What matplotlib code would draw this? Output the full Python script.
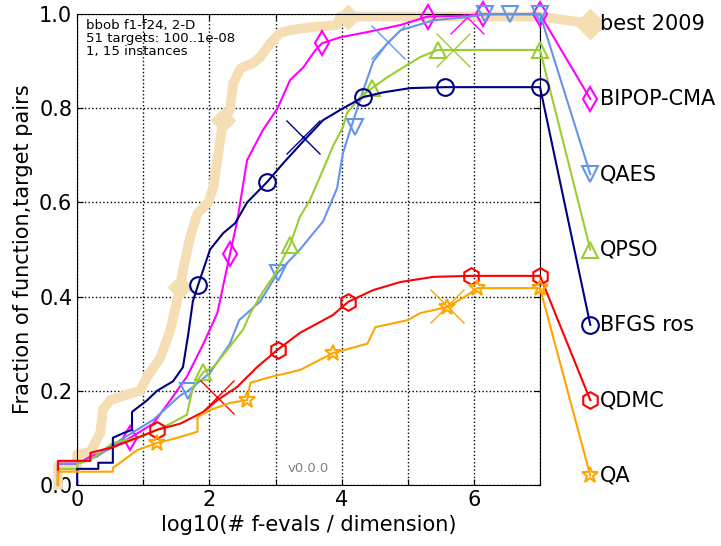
import matplotlib
matplotlib.use('Agg')
import matplotlib.pyplot as plt

# ECDF curves, x = log10(#f-evals / dimension), y = fraction of (function, target) pairs
best_x = [-0.29, -0.29, 0.0, 0.0, 0.2, 0.35, 0.39, 0.5, 0.95, 1.06, 1.26, 1.41, 1.56, 1.60, 1.71, 1.82,
          1.98, 2.06, 2.16, 2.21, 2.31, 2.36, 2.47, 2.66, 2.77, 2.92, 3.07, 3.22, 3.52, 3.93, 3.98, 7.0]
best_y = [0, 0.04, 0.04, 0.065, 0.07, 0.11, 0.16, 0.18, 0.2, 0.23, 0.27, 0.33, 0.42, 0.456, 0.527, 0.577,
          0.599, 0.633, 0.73, 0.775, 0.796, 0.853, 0.885, 0.896, 0.909, 0.938, 0.96, 0.966, 0.972, 0.977, 0.995, 0.995]
best_mx = [1.56, 2.21, 4.1]
best_my = [0.42, 0.775, 0.995]

bipop_x = [-0.29, -0.29, 0.0, 0.2, 0.39, 0.54, 0.80, 1.15, 1.41, 1.66, 1.91, 2.12, 2.31, 2.42, 2.57, 2.81,
           3.03, 3.22, 3.42, 3.60, 3.70, 3.98, 4.39, 4.89, 5.30, 5.9, 6.14, 7.0]
bipop_y = [0, 0.045, 0.045, 0.06, 0.07, 0.08, 0.10, 0.13, 0.18, 0.23, 0.30, 0.365, 0.49, 0.56, 0.69, 0.754,
           0.80, 0.86, 0.887, 0.923, 0.938, 0.951, 0.962, 0.977, 0.995, 0.997, 1.0, 1.0]
bipop_mx = [0.80, 2.31, 3.70, 5.30, 6.14, 7.0]
bipop_my = [0.10, 0.49, 0.938, 0.995, 1.0, 1.0]

qaes_x = [-0.29, -0.29, 0.0, 0.3, 0.65, 1.15, 1.56, 1.68, 2.01, 2.31, 2.45, 2.77, 3.03, 3.37, 3.72, 3.93,
          4.02, 4.13, 4.33, 4.48, 4.69, 4.89, 5.39, 5.9, 6.17, 7.0]
qaes_y = [0, 0.045, 0.045, 0.06, 0.095, 0.138, 0.19, 0.20, 0.238, 0.30, 0.35, 0.39, 0.45, 0.50, 0.56, 0.63,
          0.705, 0.754, 0.84, 0.90, 0.938, 0.966, 0.987, 0.994, 1.0, 1.0]
qaes_mx = [1.68, 3.03, 4.2, 6.17, 6.55, 7.0]
qaes_my = [0.20, 0.45, 0.76, 1.0, 1.0, 1.0]

qpso_x = [-0.29, -0.29, 0.0, 0.0, 0.2, 0.54, 0.91, 1.15, 1.41, 1.66, 1.75, 1.91, 2.06, 2.27, 2.51, 2.62,
          2.81, 3.0, 3.22, 3.37, 3.52, 3.72, 3.87, 4.02, 4.08, 4.28, 4.46, 4.69, 4.93, 5.19, 5.45, 7.0]
qpso_y = [0, 0.034, 0.034, 0.045, 0.053, 0.089, 0.10, 0.113, 0.13, 0.149, 0.208, 0.24, 0.25, 0.287, 0.33, 0.365,
          0.41, 0.45, 0.51, 0.57, 0.605, 0.67, 0.72, 0.76, 0.79, 0.824, 0.843, 0.866, 0.887, 0.909, 0.924, 0.924]
qpso_mx = [1.91, 3.22, 4.46, 5.45, 7.0]
qpso_my = [0.24, 0.51, 0.843, 0.924, 0.924]

bfgs_x = [0.0, 0.0, 0.32, 0.32, 0.54, 0.54, 0.70, 0.83, 0.83, 1.06, 1.21, 1.45, 1.60, 1.68, 1.75, 1.83,
          2.01, 2.21, 2.39, 2.57, 2.87, 3.12, 3.42, 3.72, 4.02, 4.33, 4.63, 5.04, 5.57, 7.0]
bfgs_y = [0, 0.034, 0.034, 0.047, 0.047, 0.10, 0.11, 0.117, 0.155, 0.18, 0.20, 0.22, 0.25, 0.32, 0.39, 0.425,
          0.50, 0.535, 0.556, 0.60, 0.643, 0.684, 0.73, 0.775, 0.80, 0.824, 0.834, 0.843, 0.845, 0.845]
bfgs_mx = [1.83, 2.87, 4.33, 5.57, 7.0]
bfgs_my = [0.425, 0.643, 0.824, 0.845, 0.845]

qdmc_x = [-0.29, -0.29, 0.2, 0.2, 0.54, 0.91, 1.21, 1.56, 1.91, 2.12, 2.42, 2.72, 3.03, 3.37, 3.87, 4.10,
          4.48, 4.89, 5.39, 5.95, 7.0]
qdmc_y = [0, 0.051, 0.051, 0.068, 0.08, 0.10, 0.117, 0.13, 0.155, 0.18, 0.208, 0.25, 0.287, 0.323, 0.361, 0.389,
          0.414, 0.431, 0.442, 0.444, 0.444]
qdmc_mx = [1.21, 3.03, 4.10, 5.95, 7.0]
qdmc_my = [0.117, 0.287, 0.389, 0.444, 0.444]

qa_x = [-0.29, -0.29, 0.54, 0.54, 0.65, 0.91, 1.21, 1.41, 1.66, 1.82, 1.82, 2.01, 2.31, 2.57, 2.62, 2.92,
        3.37, 3.87, 4.39, 4.51, 5.0, 5.19, 5.60, 5.9, 6.05, 7.0]
qa_y = [0, 0.028, 0.028, 0.036, 0.047, 0.074, 0.089, 0.096, 0.106, 0.113, 0.144, 0.159, 0.174, 0.18, 0.217, 0.229,
        0.244, 0.28, 0.30, 0.335, 0.35, 0.365, 0.378, 0.403, 0.418, 0.418]
qa_mx = [1.21, 2.57, 3.87, 5.60, 6.05, 7.0]
qa_my = [0.089, 0.18, 0.28, 0.378, 0.418, 0.418]

# budget crosses (x markers)
cross_x = {'BIPOP-CMA': 5.9, 'QAES': 4.7, 'QPSO': 5.69, 'BFGS ros': 3.42, 'QDMC': 2.12, 'QA': 5.6}
cross_y = {'BIPOP-CMA': 0.995, 'QAES': 0.94, 'QPSO': 0.924, 'BFGS ros': 0.74, 'QDMC': 0.187, 'QA': 0.38}

names = ['BIPOP-CMA', 'QAES', 'QPSO', 'BFGS ros', 'QDMC', 'QA']
colors = ['magenta', 'cornflowerblue', 'yellowgreen', 'navy', 'red', 'orange']
markers = ['d', 'v', '^', 'o', 'h', '*']
label_y = [0.82, 0.66, 0.50, 0.34, 0.18, 0.02]
curves = [(bipop_x, bipop_y, bipop_mx, bipop_my), (qaes_x, qaes_y, qaes_mx, qaes_my),
          (qpso_x, qpso_y, qpso_mx, qpso_my), (bfgs_x, bfgs_y, bfgs_mx, bfgs_my),
          (qdmc_x, qdmc_y, qdmc_mx, qdmc_my), (qa_x, qa_y, qa_mx, qa_my)]
label_x = 7.76

fig = plt.figure(figsize=(7.21, 5.46), dpi=100)
ax = fig.add_axes([0.107, 0.112, 0.642, 0.862])

# best 2009 reference
ax.plot(best_x, best_y, color='wheat', lw=7, clip_on=False, zorder=2, solid_joinstyle='round')
ax.plot(best_mx, best_my, ls='none', marker='D', ms=12, color='wheat', clip_on=False, zorder=2)
ax.plot([7.0, label_x], [best_y[-1], 0.98], color='wheat', lw=7, clip_on=False, zorder=2)
ax.plot([label_x], [0.98], ls='none', marker='D', ms=15, color='wheat', clip_on=False, zorder=2)
ax.text(7.9, 0.98, 'best 2009', fontsize=15, va='center', ha='left')

for (cx, cy, mx, my), name, c, m, ly in zip(curves, names, colors, markers, label_y):
    ax.plot(cx, cy, color=c, lw=1.5, clip_on=False, zorder=3)
    ax.plot(mx, my, ls='none', marker=m, ms=12, mfc='none', mec=c, mew=1.5, clip_on=False, zorder=3)
    ax.plot([cross_x[name]], [cross_y[name]], ls='none', marker='x', ms=24, mew=1, color=c, zorder=3)
    ax.plot([7.0, label_x], [cy[-1], ly], color=c, lw=1.5, clip_on=False, zorder=3)
    ax.plot([label_x], [ly], ls='none', marker=m, ms=12, mfc='none', mec=c, mew=1.5, clip_on=False, zorder=3)
    ax.text(7.9, ly, name, fontsize=15, va='center', ha='left')

ax.set_xlim(0, 7)
ax.set_ylim(0, 1)
ax.set_xticks(range(8))
ax.set_xticklabels(['0', '', '2', '', '4', '', '6', ''])
ax.set_yticks([0, 0.2, 0.4, 0.6, 0.8, 1.0])
ax.set_yticklabels(['0.0', '0.2', '0.4', '0.6', '0.8', '1.0'])
ax.tick_params(direction='in', labelsize=15, top=True, right=True, length=4)
ax.grid(True, ls=':', color='black', lw=1)
ax.set_xlabel('log10(# f-evals / dimension)', fontsize=15)
ax.set_ylabel('Fraction of function,target pairs', fontsize=15)

ax.text(0.02, 0.99, 'bbob f1-f24, 2-D\n51 targets: 100..1e-08\n1, 15 instances',
        transform=ax.transAxes, fontsize=9.5, va='top', ha='left', linespacing=1.0)
ax.text(3.5, 0.02, 'v0.0.0', fontsize=9.5, color='gray', ha='center', va='bottom')

fig.savefig('out.png', dpi=100)
